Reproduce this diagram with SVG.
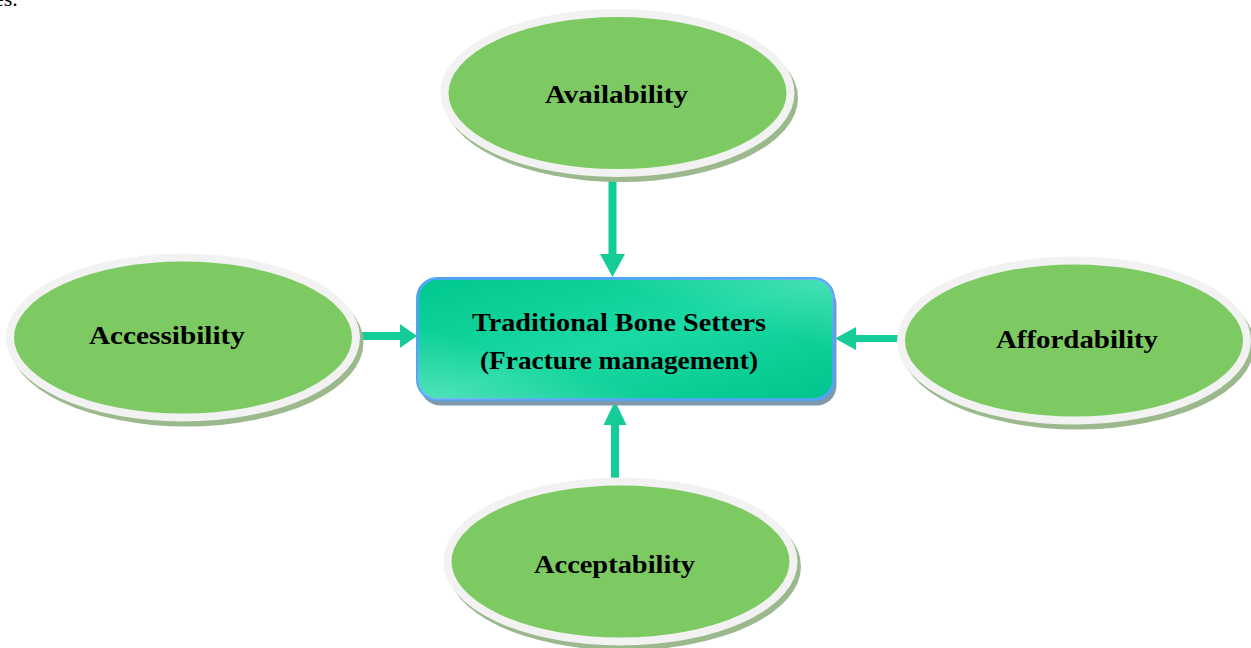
<svg xmlns="http://www.w3.org/2000/svg" width="1251" height="648" viewBox="0 0 1251 648">
  <defs>
    <linearGradient id="boxFill" x1="0" y1="0" x2="1" y2="1">
      <stop offset="0" stop-color="#00c88e"/>
      <stop offset="0.5" stop-color="#1ad9a4"/>
      <stop offset="1" stop-color="#00c58c"/>
    </linearGradient>
    <linearGradient id="boxSheen" x1="0" y1="1" x2="1" y2="0">
      <stop offset="0" stop-color="#ffffff" stop-opacity="0.25"/>
      <stop offset="0.3" stop-color="#ffffff" stop-opacity="0"/>
      <stop offset="0.7" stop-color="#ffffff" stop-opacity="0"/>
      <stop offset="1" stop-color="#ffffff" stop-opacity="0.2"/>
    </linearGradient>
  </defs>
  <style>
    .shadow { fill: #9cb98d; }
    .oval { fill: #7dca63; stroke: #f2f2f2; stroke-width: 8; }
    .label { font-family: "Liberation Serif", "Times New Roman", serif; font-weight: bold; font-size: 25px; fill: #000000; }
    .arrow { fill: #13cc97; }
    .page { font-family: "Liberation Serif", "Times New Roman", serif; font-size: 22px; fill: #000000; }
  </style>

  <rect width="1251" height="648" fill="#ffffff"/>

  <!-- tail of the preceding paragraph -->
  <text class="page" x="-6" y="6">es.</text>

  <g id="connectors">
    <!-- Availability down to the box -->
    <polygon class="arrow" points="608.5,180 616.5,180 616.5,254 625,254 612.5,277 600,254 608.5,254"/>
    <!-- Accessibility across to the box -->
    <polygon class="arrow" points="353,332 400,332 400,324 417,336 400,348 400,340 353,340"/>
    <!-- Affordability across to the box -->
    <polygon class="arrow" points="902,335 856,335 856,327 835,338.5 856,350 856,342 902,342"/>
    <!-- Acceptability up to the box -->
    <polygon class="arrow" points="611,480 619,480 619,425 626.5,425 615,401 603.5,425 611,425"/>
  </g>

  <g id="availability">
    <ellipse class="shadow" cx="621" cy="98" rx="177" ry="84"/>
    <ellipse class="oval" cx="617.5" cy="93" rx="173" ry="80"/>
    <text class="label" x="616.5" y="103" text-anchor="middle" textLength="143" lengthAdjust="spacingAndGlyphs">Availability</text>
  </g>

  <g id="accessibility">
    <ellipse class="shadow" cx="186.5" cy="342.5" rx="177" ry="84"/>
    <ellipse class="oval" cx="183" cy="337.5" rx="173" ry="80"/>
    <text class="label" x="167" y="344" text-anchor="middle" textLength="156" lengthAdjust="spacingAndGlyphs">Accessibility</text>
  </g>

  <g id="affordability">
    <ellipse class="shadow" cx="1077.5" cy="345.5" rx="177" ry="84"/>
    <ellipse class="oval" cx="1074" cy="340.5" rx="173" ry="80"/>
    <text class="label" x="1077" y="348" text-anchor="middle" textLength="162" lengthAdjust="spacingAndGlyphs">Affordability</text>
  </g>

  <g id="acceptability">
    <ellipse class="shadow" cx="624" cy="566.5" rx="177" ry="84"/>
    <ellipse class="oval" cx="620.5" cy="561.5" rx="173" ry="80"/>
    <text class="label" x="614.5" y="573" text-anchor="middle" textLength="161" lengthAdjust="spacingAndGlyphs">Acceptability</text>
  </g>

  <g id="bone-setters">
    <rect x="420.5" y="284.5" width="416" height="121" rx="20" fill="#7f99ab"/>
    <rect x="417.5" y="278.5" width="416" height="121" rx="20" fill="url(#boxFill)" stroke="#4ea5f5" stroke-width="3"/>
    <rect x="417.5" y="278.5" width="416" height="121" rx="20" fill="url(#boxSheen)"/>
    <text class="label" x="619" y="331" text-anchor="middle" textLength="294" lengthAdjust="spacingAndGlyphs">Traditional Bone Setters</text>
    <text class="label" x="619" y="369" text-anchor="middle" textLength="278" lengthAdjust="spacingAndGlyphs">(Fracture management)</text>
  </g>
</svg>
